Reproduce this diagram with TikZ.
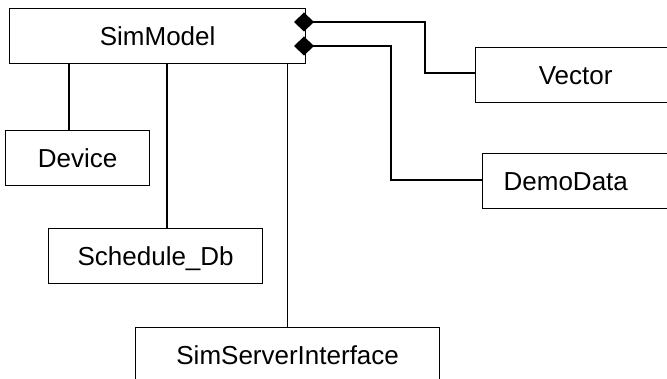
\documentclass[tikz,border=0pt]{standalone}
\usepackage{fontspec}
\setmainfont{Liberation Sans}
\usetikzlibrary{arrows.meta, calc}
\definecolor{darkline}{HTML}{000000}
\definecolor{boxfill}{HTML}{FFFFFF}
\tikzset{
  cls/.style={rectangle, draw=darkline, fill=boxfill, line width=1.3pt,
              anchor=north west, minimum height=\rowh, inner sep=0pt,
              text height=19pt, text depth=0pt, font=\fontsize{26}{30}\selectfont},
  link/.style={draw=darkline, line width=1.3pt},
  aggr/.style={link, {Diamond[length=20pt, width=19pt]}-},
}
\def\rowh{55pt}
\def\pagew{667}
\def\pageh{379}

\begin{document}
\begin{tikzpicture}[x=1pt, y=-1pt]

% Page frame, the outer boxes run off it
\useasboundingbox (0,0) rectangle (\pagew,\pageh);
\clip (0,0) rectangle (\pagew,\pageh);

% Classes
\node[cls, minimum width=296pt] (sim) at (9,8) {SimModel};
\node[cls, minimum width=200pt] (vec) at (475,47) {Vector};
\node[cls, text width=179pt, align=left, inner xsep=21pt] (demo) at (482,153) {DemoData};
\node[cls, minimum width=144pt] (dev) at (5,130) {Device};
\node[cls, minimum width=214pt] (sched) at (48,228) {Schedule\_Db};
\node[cls, minimum width=304pt] (ssi) at (135,327) {SimServerInterface};

% Taps and bends
\coordinate (tapdev) at (69,0);
\coordinate (tapsched) at (167,0);
\coordinate (hasvec) at (294,22);
\coordinate (hasdemo) at (294,46);
\coordinate (bendvec) at (425,0);
\coordinate (benddemo) at (391,0);

% Plain links
\draw[link] (sim.south -| tapdev) -- (dev.north -| tapdev);
\draw[link] (sim.south -| tapsched) -- (sched.north -| tapsched);
\draw[link] (sim.south -| ssi.north) -- (ssi.north);

% Aggregations
\draw[aggr] (hasvec) -| ([yshift=2pt]bendvec |- vec.west) -- ([yshift=2pt]vec.west);
\draw[aggr] (hasdemo) -| ([yshift=1pt]benddemo |- demo.west) -- ([yshift=1pt]demo.west);

\end{tikzpicture}
\end{document}
